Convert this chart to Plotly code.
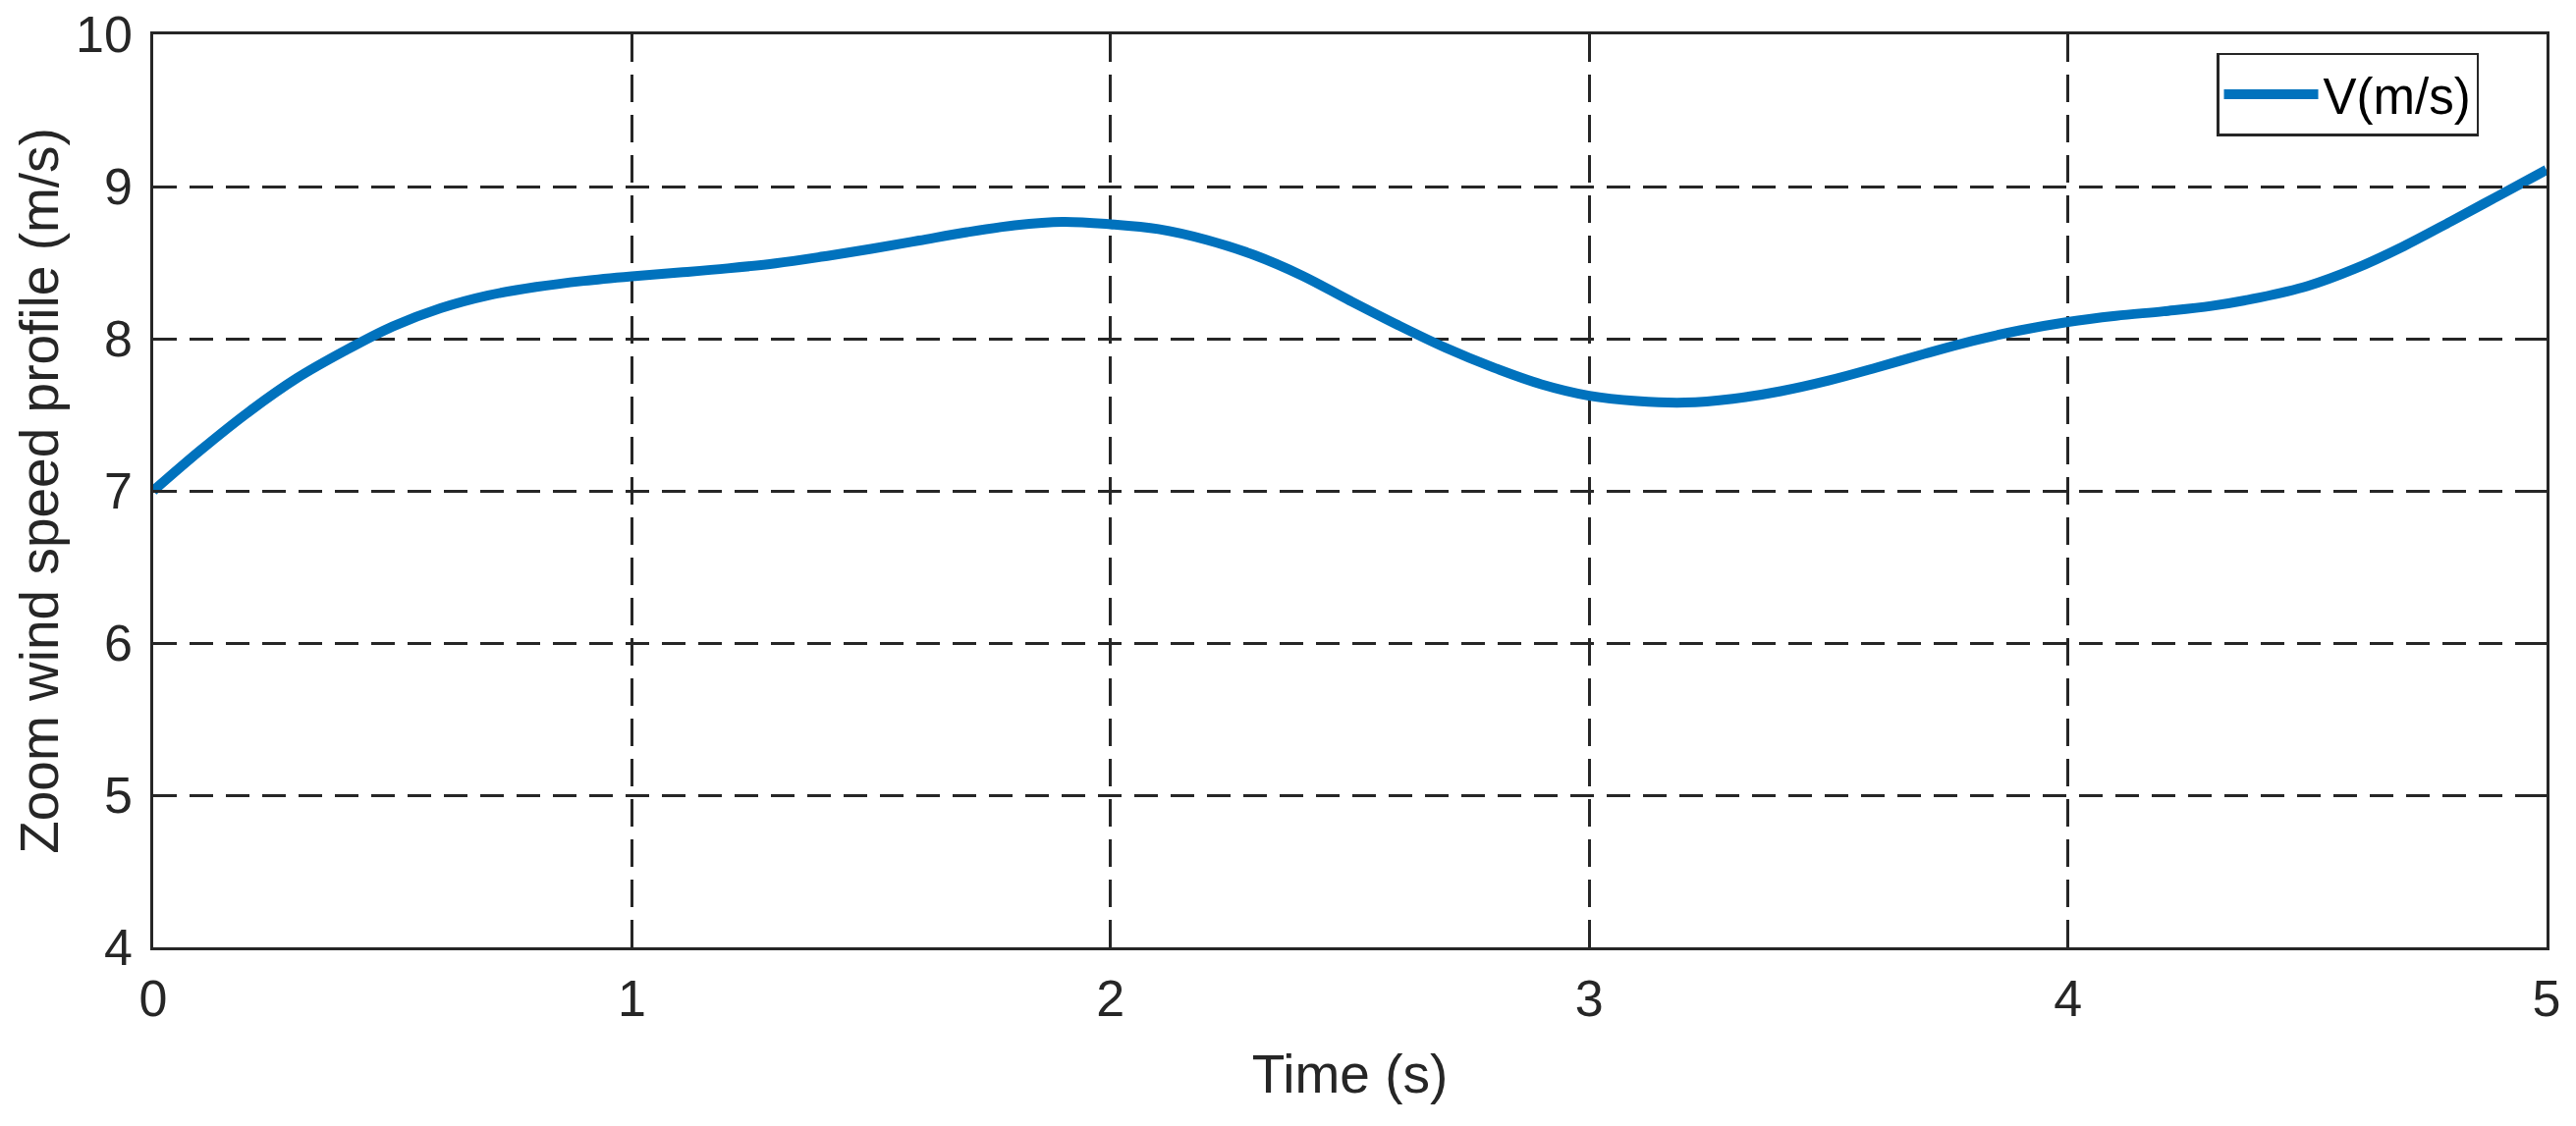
import plotly.graph_objects as go

time_s = [0.0, 0.1, 0.2, 0.3, 0.4, 0.5, 0.6, 0.7, 0.8, 0.9,
          1.0, 1.1, 1.2, 1.3, 1.4, 1.5, 1.6, 1.7, 1.8, 1.9,
          2.0, 2.1, 2.2, 2.3, 2.4, 2.5, 2.6, 2.7, 2.8, 2.9,
          3.0, 3.1, 3.2, 3.3, 3.4, 3.5, 3.6, 3.7, 3.8, 3.9,
          4.0, 4.1, 4.2, 4.3, 4.4, 4.5, 4.6, 4.7, 4.8, 4.9, 5.0]
wind_speed = [7.00, 7.27, 7.52, 7.74, 7.92, 8.08, 8.20, 8.285, 8.34, 8.38,
              8.41, 8.435, 8.462, 8.495, 8.54, 8.59, 8.645, 8.70, 8.745, 8.768,
              8.752, 8.72, 8.65, 8.55, 8.415, 8.25, 8.09, 7.94, 7.81, 7.70,
              7.625, 7.59, 7.58, 7.605, 7.655, 7.725, 7.81, 7.90, 7.985, 8.055,
              8.11, 8.15, 8.18, 8.215, 8.27, 8.345, 8.46, 8.605, 8.77, 8.94, 9.11]
x_ticks = [0, 1, 2, 3, 4, 5]
y_ticks = [4, 5, 6, 7, 8, 9, 10]
series_name = "V(m/s)"

INK = "#262626"
FONT = "Liberation Sans, Arial, sans-serif"

fig = go.Figure()
fig.add_trace(go.Scatter(
    x=time_s, y=wind_speed, mode="lines", name=series_name,
    line=dict(color="#0072BD", width=10, shape="spline", smoothing=1.0),
))

axis_common = dict(
    showline=True, linecolor=INK, linewidth=2.5, mirror="ticks",
    ticks="inside", ticklen=24, tickwidth=2.5, tickcolor=INK,
    showgrid=True, gridcolor=INK, gridwidth=2.5,
    zeroline=False, automargin=False, ticklabeloverflow="allow",
    tickfont=dict(family=FONT, size=52, color=INK),
)

fig.update_xaxes(
    range=[0, 5], tickvals=x_ticks, ticktext=[str(v) for v in x_ticks],
    griddash="28px,13px", ticklabelstandoff=5,
    title=dict(text="Time (s)", font=dict(family=FONT, size=55, color=INK), standoff=30),
    **axis_common,
)
fig.update_yaxes(
    range=[4, 10], tickvals=y_ticks, ticktext=[str(v) for v in y_ticks],
    griddash="24px,13px", ticklabelstandoff=8,
    title=dict(text="Zoom wind speed profile (m/s)", font=dict(family=FONT, size=55, color=INK), standoff=0),
    **axis_common,
)

fig.update_layout(
    width=2623, height=1147, autosize=False,
    margin=dict(l=148, r=38, t=27, b=190),
    paper_bgcolor="white", plot_bgcolor="white",
    font=dict(family=FONT, color=INK),
    showlegend=True,
    legend=dict(
        x=0.9717, y=0.9796, xanchor="right", yanchor="top",
        bgcolor="white", bordercolor=INK, borderwidth=2.5,
        font=dict(family=FONT, size=51, color="#000000"),
        itemwidth=96, tracegroupgap=0,
    ),
)

fig.write_html("out.html")
